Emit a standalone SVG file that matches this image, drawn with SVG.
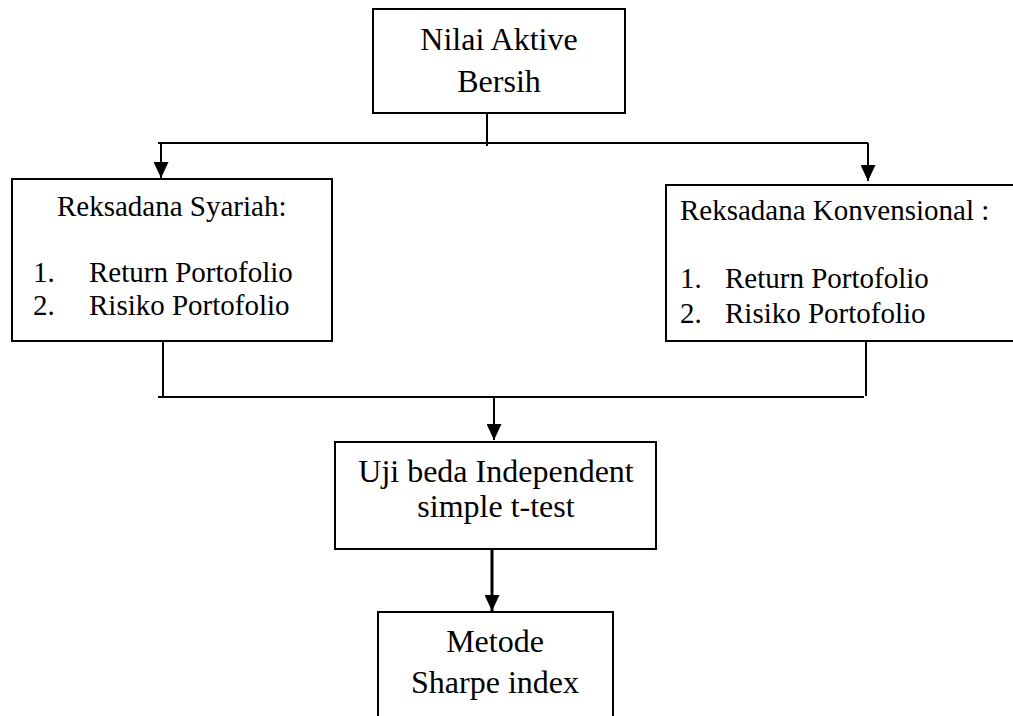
<svg xmlns="http://www.w3.org/2000/svg" width="1013" height="716" viewBox="0 0 1013 716">
<style>
.box{fill:#fff;stroke:#000;stroke-width:2}
.ln{fill:none;stroke:#000;stroke-width:2}
.t{font-family:"Liberation Serif","Times New Roman",serif;fill:#000}
.big{font-size:32px}
.sm{font-size:29px}
</style>
<defs>
<marker id="ah" markerWidth="16" markerHeight="15" refX="16" refY="7.5" orient="auto" markerUnits="userSpaceOnUse">
<path d="M0,0 L16,7.5 L0,15 Z" fill="#000"/>
</marker>
</defs>
<rect width="1013" height="716" fill="#fff"/>
<g id="connectors">
<path class="ln" d="M487,113 V146"/>
<path class="ln" d="M158,143 H868"/>
<path class="ln" d="M161,143 V178" marker-end="url(#ah)"/>
<path class="ln" d="M868,143 V181" marker-end="url(#ah)"/>
<path class="ln" d="M163,341 V398"/>
<path class="ln" d="M866,341 V396"/>
<path class="ln" d="M158,397 H864"/>
<path class="ln" d="M494,397 V440" marker-end="url(#ah)"/>
<path class="ln" d="M492,549 V611" marker-end="url(#ah)" style="stroke-width:3"/>
</g>
<g id="node-nab">
<rect class="box" x="373" y="9" width="252" height="104"/>
<text class="t big" x="499" y="50" text-anchor="middle">Nilai Aktive</text>
<text class="t big" x="499" y="92" text-anchor="middle">Bersih</text>
</g>
<g id="node-syariah">
<rect class="box" x="12" y="179" width="320" height="162"/>
<text class="t sm" x="57" y="216">Reksadana Syariah:</text>
<text class="t sm" x="33" y="282">1.</text>
<text class="t sm" x="89" y="282">Return Portofolio</text>
<text class="t sm" x="33" y="315">2.</text>
<text class="t sm" x="89" y="315">Risiko Portofolio</text>
</g>
<g id="node-konvensional">
<rect class="box" x="666" y="185" width="360" height="156"/>
<text class="t sm" x="680" y="220">Reksadana Konvensional :</text>
<text class="t sm" x="680" y="288">1.</text>
<text class="t sm" x="725" y="288">Return Portofolio</text>
<text class="t sm" x="680" y="323">2.</text>
<text class="t sm" x="725" y="323">Risiko Portofolio</text>
</g>
<g id="node-uji">
<rect class="box" x="335" y="442" width="321" height="107"/>
<text class="t big" x="496" y="482" text-anchor="middle">Uji beda Independent</text>
<text class="t big" x="496" y="517" text-anchor="middle">simple t-test</text>
</g>
<g id="node-sharpe">
<rect class="box" x="378" y="612" width="235" height="120"/>
<text class="t big" x="495" y="652" text-anchor="middle">Metode</text>
<text class="t big" x="495" y="693" text-anchor="middle">Sharpe index</text>
</g>
</svg>
